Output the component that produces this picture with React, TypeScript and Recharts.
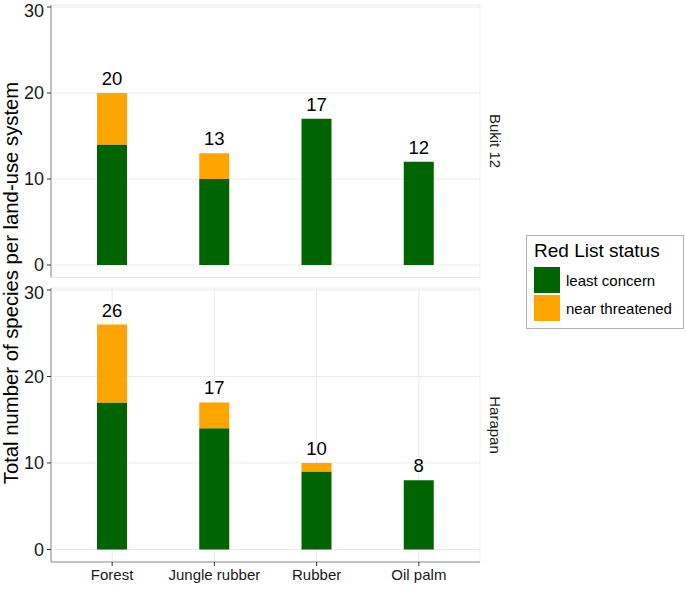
import React from 'react';
import { BarChart, Bar, XAxis, YAxis, CartesianGrid, LabelList } from 'recharts';

const categories = ['Forest', 'Jungle rubber', 'Rubber', 'Oil palm'];
const bukitLeast = [14, 10, 17, 12];
const bukitNear = [6, 3, 0, 0];
const harapanLeast = [17, 14, 9, 8];
const harapanNear = [9, 3, 1, 0];
const yTicks = [0, 10, 20, 30];
const sites = ['Bukit 12', 'Harapan'];
const statuses = ['least concern', 'near threatened'];

const GREEN = '#006400';
const ORANGE = '#FFA500';
const BORDER = '#8f8f8f';
const GRID = '#ebebeb';
const FONT = '"Liberation Sans", Arial, sans-serif';

// total label sits on the top-most non-empty segment
const build = (least: number[], near: number[]) =>
  categories.map((c, i) => {
    const total = least[i] + near[i];
    return {
      name: c,
      least: least[i],
      near: near[i],
      labelLeast: near[i] === 0 ? total : undefined,
      labelNear: near[i] > 0 ? total : undefined,
    };
  });

const bukitData = build(bukitLeast, bukitNear);
const harapanData = build(harapanLeast, harapanNear);

const labelProps = { position: 'top' as const, offset: 8, fill: '#000', fontSize: 18.5, fontFamily: FONT };

const Panel = ({ data, height, top, bottom, showX }: { data: any[]; height: number; top: number; bottom: number; showX: boolean }) => (
  <BarChart width={686} height={height} data={data} margin={{ top, right: 206, bottom, left: 0 }} barSize={30}>
    <CartesianGrid stroke={GRID} strokeWidth={1} />
    <XAxis
      dataKey="name"
      type="category"
      padding={{ left: 10, right: 10 }}
      axisLine={{ stroke: BORDER }}
      tickLine={showX ? { stroke: '#333' } : false}
      tickSize={4}
      tickMargin={3}
      tick={showX ? { fill: '#1a1a1a', fontSize: 15, fontFamily: FONT } : false}
      height={showX ? 27 : 0}
      interval={0}
    />
    <XAxis xAxisId="t" orientation="top" dataKey="name" axisLine={{ stroke: BORDER }} tick={false} tickLine={false} height={0} />
    <YAxis
      type="number"
      domain={[-1.45, 30.23]}
      ticks={yTicks}
      allowDataOverflow
      width={51}
      axisLine={{ stroke: BORDER }}
      tickLine={{ stroke: '#333' }}
      tickSize={4}
      tickMargin={3}
      tick={{ fill: '#1a1a1a', fontSize: 18, fontFamily: FONT }}
    />
    <YAxis yAxisId="r" orientation="right" type="number" domain={[-1.45, 30.23]} axisLine={{ stroke: BORDER }} tick={false} tickLine={false} width={0} />
    <Bar dataKey="least" stackId="s" fill={GREEN} isAnimationActive={false}>
      <LabelList dataKey="labelLeast" {...labelProps} />
    </Bar>
    <Bar dataKey="near" stackId="s" fill={ORANGE} isAnimationActive={false}>
      <LabelList dataKey="labelNear" {...labelProps} />
    </Bar>
  </BarChart>
);

export default function App() {
  return (
    <div style={{ position: 'absolute', left: 0, top: 0, width: 686, height: 589, background: '#fff', fontFamily: FONT }}>
      <div style={{ position: 'absolute', left: 0, top: 0 }}>
        <Panel data={bukitData} height={282} top={5} bottom={4.5} showX={false} />
      </div>
      <div style={{ position: 'absolute', left: 0, top: 282 }}>
        <Panel data={harapanData} height={307} top={6} bottom={0} showX={true} />
      </div>
      <svg width={686} height={589} style={{ position: 'absolute', left: 0, top: 0, pointerEvents: 'none' }}>
        <text x={11} y={283} transform="rotate(-90 11 283)" textAnchor="middle" dominantBaseline="central" fontSize={20.3} fontFamily={FONT} fill="#000">
          Total number of species per land-use system
        </text>
        <text x={495} y={141} transform="rotate(90 495 141)" textAnchor="middle" dominantBaseline="central" fontSize={15} fontFamily={FONT} fill="#1a1a1a">
          {sites[0]}
        </text>
        <text x={495} y={425} transform="rotate(90 495 425)" textAnchor="middle" dominantBaseline="central" fontSize={15} fontFamily={FONT} fill="#1a1a1a">
          {sites[1]}
        </text>
      </svg>
      <div style={{ position: 'absolute', left: 526, top: 235, width: 156, height: 92, border: '1px solid #b3b3b3', boxSizing: 'content-box' }}>
        <div style={{ position: 'absolute', left: 7, top: 4, fontSize: 19, color: '#000', whiteSpace: 'nowrap' }}>Red List status</div>
        {statuses.map((s, i) => (
          <div key={s} style={{ position: 'absolute', left: 7, top: 31 + i * 28, height: 26, display: 'flex', alignItems: 'center' }}>
            <div style={{ width: 26, height: 26, background: i === 0 ? GREEN : ORANGE }} />
            <span style={{ marginLeft: 6, fontSize: 15, color: '#000', whiteSpace: 'nowrap' }}>{s}</span>
          </div>
        ))}
      </div>
    </div>
  );
}
